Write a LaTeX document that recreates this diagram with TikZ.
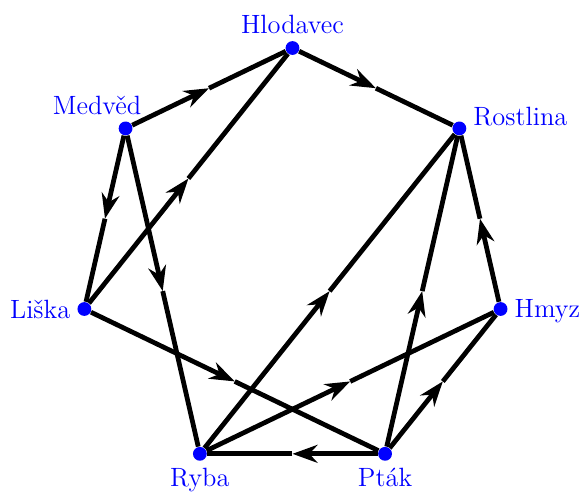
\documentclass[tikz,border=0pt]{standalone}
\usepackage{tikz}
\usetikzlibrary{arrows.meta,calc}

\begin{document}
\begin{tikzpicture}[
    font=\fontsize{11.1pt}{13pt}\selectfont,
    animal/.style={circle, fill=blue, draw=none, inner sep=0pt, minimum size=5.8pt},
    every label/.style={text=blue, inner sep=2.6pt},
    feed/.style={line width=2pt, -{Stealth[length=10.5pt, width=7.5pt]}},
    feed_rest/.style={line width=2pt}
]
\useasboundingbox (0,0) rectangle (8.62,7.262);
\coordinate (c) at (4.317,3.402);

\node[animal, label=above:Hlodavec] (hlo) at ($(c)+(90:3.151)$) {};
\node[animal, label={[xshift=-12pt]above:Medvěd}] (med) at ($(c)+(141.43:3.151)$) {};
\node[animal, label=left:Liška] (lis) at ($(c)+(192.86:3.151)$) {};
\node[animal, label=below:Ryba] (ryb) at ($(c)+(244.29:3.151)$) {};
\node[animal, label=below:Pták] (ptk) at ($(c)+(295.71:3.151)$) {};
\node[animal, label={[yshift=-1pt]right:Hmyz}] (hmz) at ($(c)+(347.14:3.151)$) {};
\node[animal, label={[yshift=5pt]right:Rostlina}] (ros) at ($(c)+(38.57:3.151)$) {};

\draw[feed] (med) -- ($(med)!0.5!(hlo)$);
\draw[feed_rest] ($(med)!0.5!(hlo)$) -- (hlo);
\draw[feed] (hlo) -- ($(hlo)!0.5!(ros)$);
\draw[feed_rest] ($(hlo)!0.5!(ros)$) -- (ros);
\draw[feed] (hmz) -- ($(hmz)!0.5!(ros)$);
\draw[feed_rest] ($(hmz)!0.5!(ros)$) -- (ros);
\draw[feed] (ptk) -- ($(ptk)!0.5!(hmz)$);
\draw[feed_rest] ($(ptk)!0.5!(hmz)$) -- (hmz);
\draw[feed] (ptk) -- ($(ptk)!0.5!(ryb)$);
\draw[feed_rest] ($(ptk)!0.5!(ryb)$) -- (ryb);
\draw[feed] (med) -- ($(med)!0.5!(lis)$);
\draw[feed_rest] ($(med)!0.5!(lis)$) -- (lis);
\draw[feed] (lis) -- ($(lis)!0.5!(hlo)$);
\draw[feed_rest] ($(lis)!0.5!(hlo)$) -- (hlo);
\draw[feed] (med) -- ($(med)!0.5!(ryb)$);
\draw[feed_rest] ($(med)!0.5!(ryb)$) -- (ryb);
\draw[feed] (lis) -- ($(lis)!0.5!(ptk)$);
\draw[feed_rest] ($(lis)!0.5!(ptk)$) -- (ptk);
\draw[feed] (ryb) -- ($(ryb)!0.5!(ros)$);
\draw[feed_rest] ($(ryb)!0.5!(ros)$) -- (ros);
\draw[feed] (ptk) -- ($(ptk)!0.5!(ros)$);
\draw[feed_rest] ($(ptk)!0.5!(ros)$) -- (ros);
\draw[feed] (ryb) -- ($(ryb)!0.5!(hmz)$);
\draw[feed_rest] ($(ryb)!0.5!(hmz)$) -- (hmz);

\end{tikzpicture}
\end{document}
